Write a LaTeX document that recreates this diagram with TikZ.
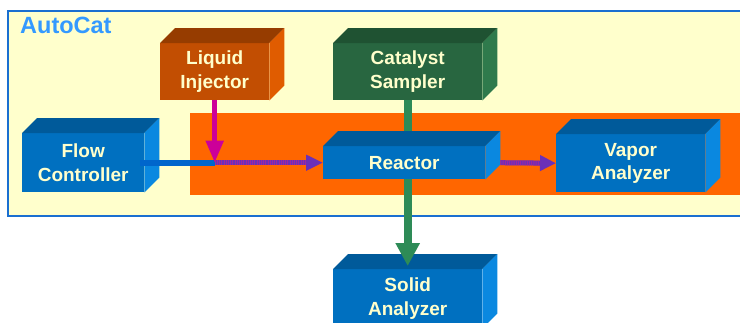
\documentclass[tikz,border=0pt]{standalone}
\usepackage{fontspec}
\setmainfont{Liberation Sans}
\usetikzlibrary{arrows.meta,calc}
\definecolor{bgyellow}{HTML}{FFFFCC}
\definecolor{frameblue}{HTML}{1A6FD0}
\definecolor{titleblue}{HTML}{3399FF}
\definecolor{orangeband}{HTML}{FF6600}
\definecolor{bluefront}{HTML}{0070C0}
\definecolor{bluetop}{HTML}{005A9A}
\definecolor{blueside}{HTML}{0A88E0}
\definecolor{orfront}{HTML}{C24E02}
\definecolor{ortop}{HTML}{963C00}
\definecolor{orside}{HTML}{E05C00}
\definecolor{grfront}{HTML}{286640}
\definecolor{grtop}{HTML}{1F5232}
\definecolor{grside}{HTML}{2F7A4C}
\definecolor{textcream}{HTML}{FFFFCC}
\definecolor{linkgreen}{HTML}{2E8B57}
\definecolor{linkmag}{HTML}{CC0099}
\definecolor{linkblue}{HTML}{0066CC}
\definecolor{linkpurple}{HTML}{6A30B8}
\definecolor{linkpurple2}{HTML}{A0289C}
\tikzset{
  boxfront/.style={anchor=north west, inner sep=0pt, align=center,
    text=textcream, font=\fontsize{19}{23.5}\selectfont\bfseries},
  bluebox/.style={boxfront, fill=bluefront},
  orbox/.style={boxfront, fill=orfront},
  grbox/.style={boxfront, fill=grfront},
}
% faces of a 3D box: name, top colour, side colour
\newcommand{\boxfaces}[3]{%
  \fill[#2] (#1.north west) -- ++(15,-15) -- ([shift={(15,-15)}]#1.north east) -- (#1.north east) -- cycle;
  \fill[#3] (#1.north east) -- ++(15,-15) -- ([shift={(15,-15)}]#1.south east) -- (#1.south east) -- cycle;
}
\begin{document}
\begin{tikzpicture}[x=1pt,y=-1pt]
\useasboundingbox (0,0) rectangle (740,322);
\clip (0,0) rectangle (740,322);
\fill[white] (0,0) rectangle (740,322);
% outer frame
\draw[frameblue, line width=2pt, fill=bgyellow] (8,11) rectangle (770,216);
\node[anchor=base west, text=titleblue, font=\fontsize{23.5}{27}\selectfont\bfseries, inner sep=0pt] (title) at (20,33.5) {AutoCat};
% orange band
\fill[orangeband] (190,113) rectangle (770,195);

% boxes
\node[orbox, minimum width=109pt, minimum height=57pt] (LI) at (160,43) {Liquid\\Injector};
\boxfaces{LI}{ortop}{orside}
\node[grbox, minimum width=149pt, minimum height=57pt] (CS) at (333,43) {Catalyst\\Sampler};
\boxfaces{CS}{grtop}{grside}
\node[bluebox, minimum width=122pt, minimum height=59pt] (FC) at (22,133) {Flow\\Controller};
\boxfaces{FC}{bluetop}{blueside}
\node[bluebox, minimum width=149pt, minimum height=58pt] (VA) at (556,134) {Vapor\\Analyzer};
\boxfaces{VA}{bluetop}{blueside}
\node[bluebox, minimum width=149pt, minimum height=59pt] (SA) at (333,269) {Solid\\Analyzer};
\boxfaces{SA}{bluetop}{blueside}

% green link catalyst -> solid analyzer (behind reactor)
\draw[linkgreen, line width=8pt, -{Triangle[width=23pt,length=23pt]}] (CS.south) -- ([yshift=3]SA.north);

% reactor
\node[bluebox, minimum width=162pt, minimum height=33pt] (R) at (323,146) {Reactor};
\boxfaces{R}{bluetop}{blueside}

% flow lines
\coordinate (J) at (LI.south |- FC.east);
\draw[linkblue, line width=6pt] ([xshift=-4]FC.east) -- (J);
\draw[linkpurple, line width=5pt, -{Triangle[width=15pt,length=17pt]}] (J) -- (R.west);
\draw[linkpurple2, line width=5pt, dash pattern=on 1pt off 1.2pt] (J) -- ([xshift=-17]R.west);
\draw[linkmag, line width=5pt, -{Triangle[width=17pt,length=22pt]}] (LI.south) -- (J);
\coordinate (Rout) at ([xshift=15]R.east);
\draw[linkpurple, line width=5pt, -{Triangle[width=15pt,length=16pt]}] (Rout) -- (VA.west);
\draw[linkpurple2, line width=5pt, dash pattern=on 1pt off 1.2pt] (Rout) -- ([xshift=-16]VA.west);
\end{tikzpicture}
\end{document}
